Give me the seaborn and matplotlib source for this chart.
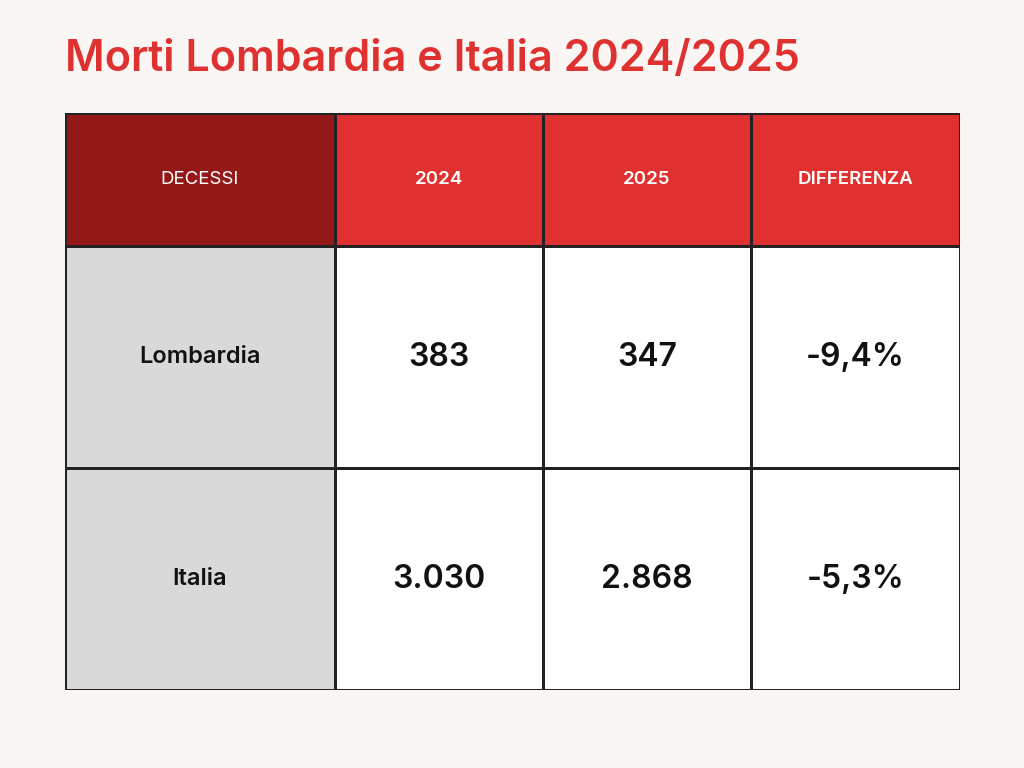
import numpy as np
import matplotlib
matplotlib.use("Agg")
import matplotlib.pyplot as plt
import seaborn as sns
from matplotlib.colors import ListedColormap

title = "Morti Lombardia e Italia 2024/2025"
header = ["DECESSI", "2024", "2025", "DIFFERENZA"]
regions = ["Lombardia", "Italia"]
deaths_2024 = ["383", "3.030"]
deaths_2025 = ["347", "2.868"]
difference = ["-9,4%", "-5,3%"]

sns.set_theme(style="white")
plt.rcParams["font.family"] = ["Inter", "DejaVu Sans"]

bg = "#F9F6F4"
fig = plt.figure(figsize=(10.24, 7.68), dpi=100, facecolor=bg)
fig.text(65 / 1024, 1 - 60 / 768, title, color="#E03131", fontsize=31,
         fontweight="semibold", va="center", ha="left")

ax = fig.add_axes([65 / 1024, 78 / 768, 895 / 1024, 577 / 768])
x_edges = np.array([65, 335, 543, 751, 960])
y_edges = np.array([113, 246, 468, 690])

# colour index per cell: 0 dark red, 1 red, 2 grey, 3 white
colors = np.array([[0, 1, 1, 1], [2, 3, 3, 3], [2, 3, 3, 3]])
cmap = ListedColormap(["#951818", "#E03030", "#D9D9D9", "#FFFFFF"])
ax.pcolormesh(x_edges, y_edges, colors, cmap=cmap, vmin=-0.5, vmax=3.5,
              edgecolors="#222222", linewidth=0.8)
ax.set_xlim(x_edges[0], x_edges[-1])
ax.set_ylim(y_edges[-1], y_edges[0])
ax.axis("off")

xc = (x_edges[:-1] + x_edges[1:]) / 2
yc = (y_edges[:-1] + y_edges[1:]) / 2

for i, h in enumerate(header):
    ax.text(xc[i], yc[0], h, color="white", fontsize=13.5, ha="center", va="center",
            fontweight="normal" if i == 0 else "semibold")

rows = list(zip(regions, deaths_2024, deaths_2025, difference))
for r, row in enumerate(rows):
    y = yc[r + 1]
    ax.text(xc[0], y, row[0], fontsize=17, fontweight="semibold", ha="center", va="center", color="#111111")
    for c in range(1, 4):
        ax.text(xc[c], y, row[c], fontsize=23, fontweight="semibold", ha="center", va="center", color="#111111")

fig.savefig("out.png", dpi=100, facecolor=bg)
